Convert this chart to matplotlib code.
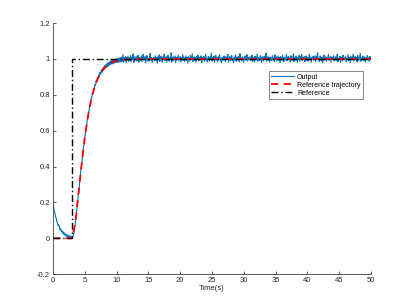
import numpy as np
import matplotlib
matplotlib.use('Agg')
import matplotlib.pyplot as plt

plt.rcParams['font.family'] = ['Liberation Sans', 'DejaVu Sans']

# measured output, one value every 0.1 s from 0 to 50 s
output_y = [
    0.197, 0.183, 0.152, 0.146, 0.119, 0.116, 0.094, 0.092, 0.071, 0.075,
    0.066, 0.049, 0.054, 0.038, 0.045, 0.029, 0.036, 0.022, 0.030, 0.017,
    0.024, 0.011, 0.020, 0.008, 0.017, 0.005, 0.014, 0.003, 0.013, 0.001,
    0.009, 0.002, 0.019, 0.028, 0.061, 0.076, 0.115, 0.134, 0.178, 0.201,
    0.246, 0.270, 0.315, 0.338, 0.382, 0.403, 0.447, 0.466, 0.508, 0.524,
    0.565, 0.578, 0.616, 0.627, 0.663, 0.671, 0.705, 0.711, 0.744, 0.747,
    0.778, 0.779, 0.808, 0.806, 0.834, 0.831, 0.857, 0.853, 0.878, 0.872,
    0.894, 0.889, 0.911, 0.902, 0.925, 0.915, 0.937, 0.926, 0.947, 0.935,
    0.956, 0.943, 0.964, 0.950, 0.972, 0.956, 0.978, 0.960, 0.983, 0.966,
    0.987, 0.969, 0.991, 0.972, 0.994, 0.975, 0.999, 0.977, 0.998, 0.979,
    1.001, 0.981, 1.003, 0.980, 1.006, 0.984, 1.008, 0.982, 1.011, 0.986,
    1.024, 0.983, 1.007, 0.990, 1.013, 0.979, 1.009, 0.993, 1.016, 0.987,
    1.005, 0.991, 1.019, 0.984, 1.010, 0.996, 1.028, 0.980, 1.012, 0.989,
    1.003, 1.015, 0.988, 0.997, 1.021, 0.982, 1.008, 1.001, 0.992, 1.017,
    0.985, 1.011, 1.026, 0.994, 0.999, 1.013, 0.978, 1.006, 1.019, 0.990,
    1.002, 0.987, 1.014, 1.031, 0.993, 1.008, 0.981, 0.996, 1.010, 1.004,
    0.989, 1.018, 0.995, 1.007, 0.976, 1.012, 1.000, 1.023, 0.986, 1.009,
    1.015, 0.992, 0.983, 1.011, 1.004, 1.027, 0.990, 0.998, 1.013, 0.981,
    1.006, 1.020, 0.994, 0.987, 1.009, 0.999, 1.035, 0.984, 1.003, 1.012,
    0.991, 1.005, 1.017, 0.979, 1.010, 0.996, 1.008, 1.022, 0.988, 1.001,
    1.014, 0.983, 1.006, 0.997, 1.024, 0.990, 1.011, 0.985, 1.002, 1.016,
    0.993, 1.009, 0.977, 1.013, 1.001, 0.988, 1.019, 1.005, 0.995, 1.028,
    0.986, 1.003, 1.012, 0.991, 1.007, 0.982, 1.015, 0.999, 1.021, 0.989,
    1.010, 0.994, 1.004, 1.018, 0.980, 1.008, 0.997, 1.013, 0.987, 1.006,
    1.025, 0.992, 1.001, 0.984, 1.014, 1.006, 0.990, 1.011, 0.998, 1.033,
    0.988, 1.009, 0.995, 1.016, 0.982, 1.003, 1.020, 0.993, 1.007, 0.985,
    1.012, 0.999, 1.023, 0.989, 1.005, 0.978, 1.010, 1.002, 0.994, 1.017,
    1.004, 0.986, 1.013, 0.997, 1.008, 1.026, 0.983, 1.000, 1.015, 0.991,
    1.007, 1.019, 0.990, 1.003, 0.979, 1.011, 0.996, 1.022, 0.987, 1.009,
    0.993, 1.014, 1.001, 0.984, 1.030, 0.997, 1.006, 0.989, 1.012, 1.003,
    0.981, 1.008, 1.017, 0.994, 1.002, 1.024, 0.988, 1.010, 0.996, 1.005,
    1.013, 0.990, 1.004, 1.021, 0.985, 0.999, 1.011, 0.983, 1.016, 1.002,
    0.995, 1.027, 0.987, 1.007, 1.000, 0.992, 1.018, 1.005, 0.980, 1.012,
    1.003, 0.989, 1.015, 0.997, 1.009, 1.032, 0.986, 1.001, 1.014, 0.993,
    1.008, 0.982, 1.011, 1.004, 0.991, 1.019, 0.998, 1.006, 0.984, 1.023,
    0.996, 1.012, 0.988, 1.002, 1.017, 0.990, 1.008, 0.979, 1.013, 1.005,
    0.992, 1.021, 1.000, 0.985, 1.010, 1.003, 0.994, 1.026, 0.989, 1.007,
    1.014, 0.997, 1.005, 0.983, 1.018, 1.001, 0.990, 1.011, 1.029, 0.986,
    1.006, 0.993, 1.016, 1.002, 0.981, 1.009, 0.998, 1.020, 0.987, 1.012,
    1.000, 1.024, 0.991, 1.007, 0.995, 1.013, 0.984, 1.004, 1.017, 0.992,
    1.009, 0.988, 1.003, 1.027, 0.996, 1.011, 0.982, 1.006, 0.999, 1.015,
    0.990, 1.005, 1.019, 0.986, 1.012, 0.997, 1.034, 0.993, 1.002, 0.985,
    1.016, 1.001, 0.989, 1.010, 0.978, 1.007, 1.022, 0.994, 1.004, 1.013,
    0.987, 1.008, 0.999, 1.025, 0.991, 1.003, 1.014, 0.983, 1.011, 0.996,
    1.006, 1.018, 0.988, 1.000, 1.012, 0.993, 1.009, 1.028, 0.985, 1.004,
    0.997, 1.015, 0.982, 1.010, 1.001, 0.990, 1.021, 1.005, 0.994, 1.008,
    1.013, 0.986, 1.004, 0.998, 1.024, 0.991, 1.007, 0.980, 1.016, 1.002,
    0.993, 1.011, 1.026, 0.989, 1.003, 1.014, 0.995, 1.008, 0.984, 1.019,
    1.001, 0.992, 1.010, 1.031, 0.987, 1.005, 0.998, 1.017, 0.990, 1.007,
    1.012, 0.983, 1.006, 0.996, 1.020, 0.994, 1.009, 0.986, 1.015, 1.003,
    1.001,
]
output_t = np.linspace(0, 50, len(output_y))

traj_t = [0, 3, 3.5, 4, 4.5, 5, 5.5, 6, 6.5, 7, 7.5, 8, 8.5, 9, 9.5, 10,
          11, 12, 13, 15, 50]
traj_y = [0, 0, 0.080, 0.240, 0.409, 0.558, 0.677, 0.770, 0.838, 0.887,
          0.922, 0.947, 0.964, 0.976, 0.984, 0.989, 0.995, 0.998, 0.999,
          1.0, 1.0]

ref_t = [0, 3, 3, 50]
ref_y = [0, 0, 1, 1]

fig = plt.figure(figsize=(4.1, 3.08), dpi=100)
ax = fig.add_axes([0.129, 0.110, 0.776, 0.815])

ax.plot(output_t, output_y, color='#0072BD', linewidth=0.8, label='Output')
ax.plot(traj_t, traj_y, color='red', linestyle=(0, (4, 3)), linewidth=1.3,
        label='Reference trajectory')
ax.plot(ref_t, ref_y, color='black', linestyle=(0, (5, 2, 1, 2)),
        linewidth=1.0, label='Reference')

ax.set_xlim(0, 50)
ax.set_ylim(-0.2, 1.2)
ax.set_xticks(np.arange(0, 51, 5))
ax.set_yticks([-0.2, 0, 0.2, 0.4, 0.6, 0.8, 1, 1.2])
ax.set_yticklabels(['-0.2', '0', '0.2', '0.4', '0.6', '0.8', '1', '1.2'])
ax.set_xlabel('Time(s)', fontsize=5.5, color='#262626', labelpad=1)

for side in ['top', 'right']:
    ax.spines[side].set_visible(False)
for side in ['left', 'bottom']:
    ax.spines[side].set_color('#404040')
    ax.spines[side].set_linewidth(0.6)
ax.tick_params(direction='in', length=2.5, width=0.6, colors='#404040',
               labelsize=5.5, labelcolor='#262626', pad=2)

leg = ax.legend(loc='center', bbox_to_anchor=(0.827, 0.753), fontsize=5,
                frameon=True, fancybox=False, handlelength=3.3,
                borderpad=0.3, labelspacing=0.15, handletextpad=0.4)
leg.get_frame().set_edgecolor('#262626')
leg.get_frame().set_linewidth(0.5)

plt.savefig('out.png', dpi=100)
